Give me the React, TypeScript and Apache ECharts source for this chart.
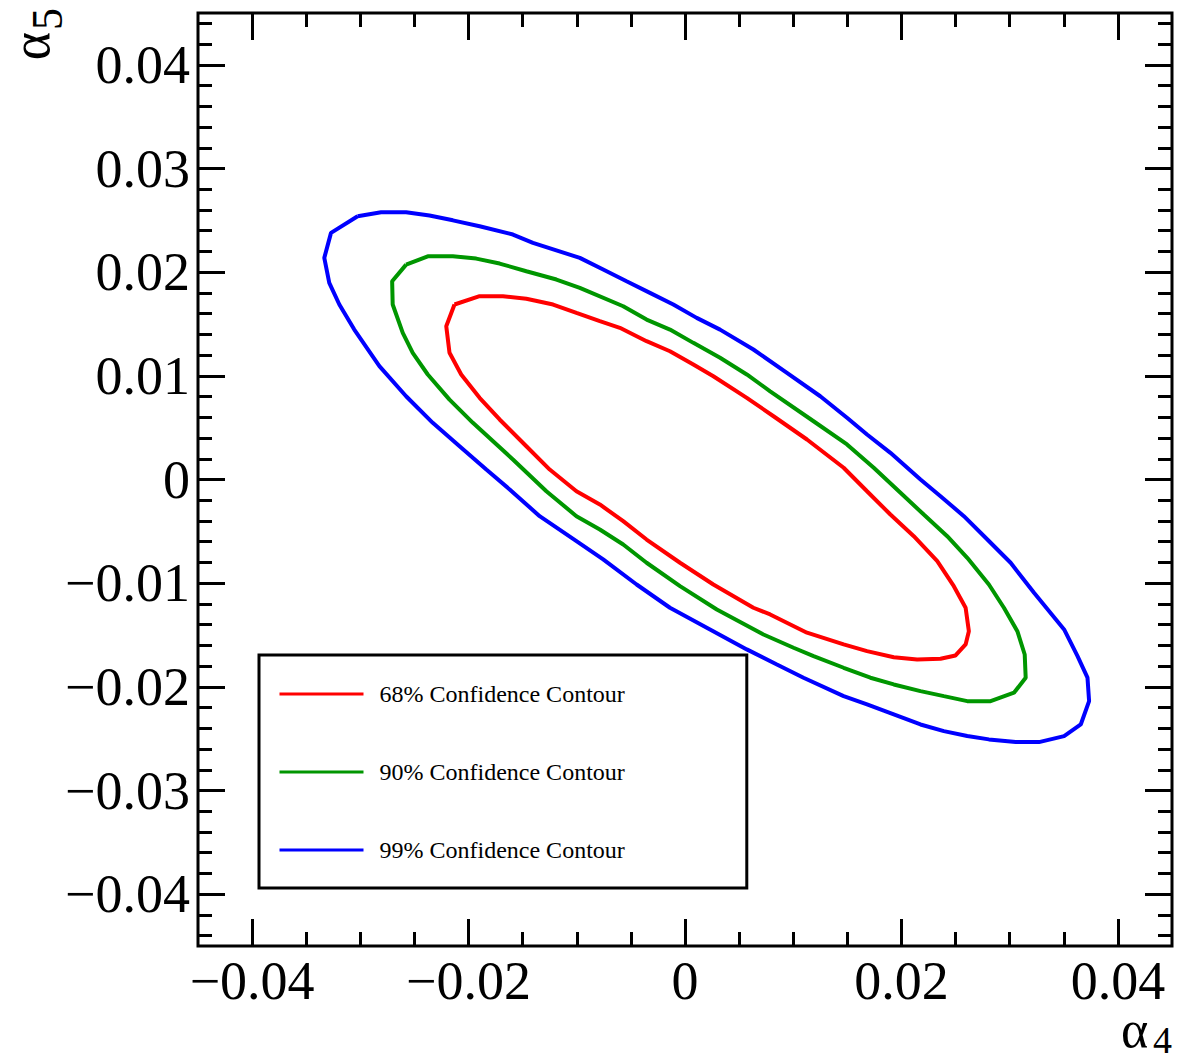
import React, { useEffect, useRef } from "react";
import * as echarts from "echarts";

// ---- tick values ----
const xMajorTicks = [-0.04, -0.02, 0, 0.02, 0.04];
const yMajorTicks = [-0.04, -0.03, -0.02, -0.01, 0, 0.01, 0.02, 0.03, 0.04];
const xMinorTicks = [-0.035, -0.03, -0.025, -0.015, -0.01, -0.005, 0.005, 0.01, 0.015, 0.025, 0.03, 0.035];
const yMinorTicks = [
  -0.044, -0.042, -0.038, -0.036, -0.034, -0.032, -0.028, -0.026, -0.024, -0.022,
  -0.018, -0.016, -0.014, -0.012, -0.008, -0.006, -0.004, -0.002,
  0.002, 0.004, 0.006, 0.008, 0.012, 0.014, 0.016, 0.018, 0.022, 0.024, 0.026, 0.028,
  0.032, 0.034, 0.036, 0.038, 0.042, 0.044,
];

const seriesNames = ["68% Confidence Contour", "90% Confidence Contour", "99% Confidence Contour"];
const seriesColors = ["#ff0000", "#009600", "#0000ff"];

// ---- contour points [alpha4, alpha5] ----
const contour68 = [
  [-0.0213, 0.01688], [-0.01898, 0.01768], [-0.01682, 0.01768], [-0.01466, 0.01743], [-0.01219, 0.01688],
  [-0.01003, 0.01607], [-0.00787, 0.01527], [-0.00602, 0.01463], [-0.00355, 0.01334], [-0.00139, 0.01237],
  [0.00077, 0.01109], [0.00262, 0.00996], [0.00571, 0.00788], [0.00818, 0.0061], [0.01127, 0.00386],
  [0.01466, 0.00113], [0.01682, -0.00113], [0.01898, -0.00338], [0.02114, -0.00547], [0.02331, -0.00788],
  [0.02484, -0.01029], [0.02593, -0.01237], [0.02623, -0.01463], [0.02593, -0.01591], [0.025, -0.01697],
  [0.02361, -0.01729], [0.02145, -0.01736], [0.01929, -0.01714], [0.01682, -0.01656], [0.01466, -0.01591],
  [0.01127, -0.01478], [0.00787, -0.01302], [0.00632, -0.01237], [0.00262, -0.01013], [-0.00046, -0.00803],
  [-0.00355, -0.00579], [-0.00571, -0.00402], [-0.00787, -0.00241], [-0.01003, -0.00113], [-0.0125, 0.00096],
  [-0.01466, 0.00321], [-0.01713, 0.00579], [-0.01898, 0.00788], [-0.02068, 0.01013], [-0.02176, 0.01222],
  [-0.02206, 0.01478], [-0.0213, 0.01688],
];

const contour90 = [
  [-0.02577, 0.02073], [-0.02377, 0.02153], [-0.02145, 0.02153], [-0.01929, 0.02131], [-0.01713, 0.02083],
  [-0.01466, 0.02009], [-0.01188, 0.01929], [-0.00972, 0.01849], [-0.00571, 0.01671], [-0.00355, 0.01543],
  [-0.00139, 0.01446], [0.00077, 0.01318], [0.00324, 0.01174], [0.00571, 0.01013], [0.00787, 0.00851],
  [0.01188, 0.00562], [0.01497, 0.00338], [0.01744, 0.00113], [0.01991, -0.00128], [0.02206, -0.00338],
  [0.02423, -0.00547], [0.02608, -0.00755], [0.02808, -0.01013], [0.02947, -0.01237], [0.03071, -0.01463],
  [0.03139, -0.01688], [0.03148, -0.01912], [0.0304, -0.02057], [0.02824, -0.02138], [0.02608, -0.02138],
  [0.02392, -0.0209], [0.02176, -0.02041], [0.01929, -0.01977], [0.01713, -0.01912], [0.01466, -0.01816],
  [0.01188, -0.01704], [0.01003, -0.01623], [0.00725, -0.01495], [0.00294, -0.01254], [-0.00046, -0.01029],
  [-0.00355, -0.00803], [-0.00571, -0.00627], [-0.00787, -0.00482], [-0.01003, -0.00354], [-0.01281, -0.00113],
  [-0.0159, 0.00193], [-0.0196, 0.00547], [-0.02176, 0.00771], [-0.02377, 0.01013], [-0.02516, 0.01222],
  [-0.02608, 0.01415], [-0.02701, 0.01688], [-0.02706, 0.01912], [-0.02577, 0.02073],
];

const contour99 = [
  [-0.03025, 0.02539], [-0.02808, 0.02578], [-0.02577, 0.02578], [-0.02361, 0.02546], [-0.02145, 0.025],
  [-0.01898, 0.02443], [-0.0159, 0.02363], [-0.01405, 0.02283], [-0.00972, 0.02138], [-0.00756, 0.02025],
  [-0.0054, 0.01912], [-0.00324, 0.018], [-0.00108, 0.01688], [0.00108, 0.01559], [0.00324, 0.01446],
  [0.00632, 0.01254], [0.00942, 0.01029], [0.0125, 0.00803], [0.01497, 0.00595], [0.01682, 0.00434],
  [0.01898, 0.00257], [0.02176, 0.0], [0.02361, -0.00161], [0.02577, -0.00354], [0.02794, -0.00579],
  [0.03009, -0.00803], [0.03225, -0.01093], [0.03503, -0.01446], [0.03627, -0.01704], [0.03719, -0.01912],
  [0.03734, -0.02138], [0.03657, -0.02363], [0.03503, -0.02475], [0.03271, -0.02533], [0.03056, -0.02533],
  [0.02808, -0.02507], [0.02608, -0.02475], [0.02392, -0.02427], [0.02176, -0.02363], [0.01929, -0.02266],
  [0.01682, -0.0217], [0.01466, -0.0209], [0.01095, -0.01912], [0.00849, -0.01784], [0.00571, -0.01639],
  [0.00231, -0.01446], [-0.00139, -0.01237], [-0.00447, -0.01013], [-0.00756, -0.00771], [-0.01003, -0.00595],
  [-0.01343, -0.00354], [-0.0162, -0.00096], [-0.01836, 0.00096], [-0.02083, 0.00321], [-0.02331, 0.00547],
  [-0.02577, 0.00803], [-0.02824, 0.01093], [-0.03056, 0.01446], [-0.03194, 0.01688], [-0.03287, 0.01897],
  [-0.03333, 0.02138], [-0.03271, 0.02379], [-0.03025, 0.02539],
];

const contours = [contour68, contour90, contour99];

const FONT = "Liberation Serif";
const fmt = (v: number) =>
  Math.abs(v) < 1e-9 ? "0" : (v < 0 ? "\u2212" : "") + Math.abs(v).toFixed(2);

function makeAxis(kind: "x" | "y", pos: string, grid: number, ticks: number[], len: number, labels: boolean) {
  return {
    type: "value",
    gridIndex: grid,
    position: pos,
    min: -0.045,
    max: 0.045,
    axisLine: { show: false, onZero: false },
    splitLine: { show: false },
    axisTick: {
      show: true,
      inside: true,
      length: len,
      customValues: ticks,
      lineStyle: { color: "#000", width: 3 },
    },
    axisLabel: labels
      ? {
          show: true,
          customValues: ticks,
          formatter: fmt,
          fontFamily: FONT,
          fontSize: 54,
          lineHeight: kind === "x" ? 40 : 50,
          color: "#000",
          margin: kind === "x" ? 15 : 8,
        }
      : { show: false },
  };
}

export default function App() {
  const ref = useRef<HTMLDivElement>(null);
  useEffect(() => {
    if (!ref.current) return;
    const chart = echarts.init(ref.current, null, { renderer: "svg" });
    const gridBox = { left: 198, top: 13, width: 974, height: 933 };
    const option: any = {
      animation: false,
      backgroundColor: "#fff",
      grid: [
        { ...gridBox, show: true, borderColor: "#000", borderWidth: 3, backgroundColor: "transparent" },
        { ...gridBox, show: false },
      ],
      xAxis: [
        makeAxis("x", "bottom", 0, xMajorTicks, 27, true),
        makeAxis("x", "top", 0, xMajorTicks, 27, false),
        makeAxis("x", "bottom", 1, xMinorTicks, 14, false),
        makeAxis("x", "top", 1, xMinorTicks, 14, false),
      ],
      yAxis: [
        makeAxis("y", "left", 0, yMajorTicks, 27, true),
        makeAxis("y", "right", 0, yMajorTicks, 27, false),
        makeAxis("y", "left", 1, yMinorTicks, 14, false),
        makeAxis("y", "right", 1, yMinorTicks, 14, false),
      ],
      legend: {
        show: true,
        orient: "vertical",
        left: 259,
        top: 655,
        padding: [27, 122, 26, 19],
        itemWidth: 84,
        itemHeight: 24,
        itemGap: 54,
        backgroundColor: "#fff",
        borderColor: "#000",
        borderWidth: 3,
        borderRadius: 0,
        data: seriesNames,
        itemStyle: { opacity: 0 },
        lineStyle: { width: 3 },
        textStyle: { fontFamily: FONT, fontSize: 24, color: "#000", padding: [0, 0, 0, 11], lineHeight: 24 },
      },
      series: contours.map((c, i) => ({
        name: seriesNames[i],
        type: "line",
        xAxisIndex: 0,
        yAxisIndex: 0,
        data: c,
        symbol: "none",
        smooth: false,
        lineStyle: { color: seriesColors[i], width: 4 },
        itemStyle: { color: seriesColors[i] },
        z: 3,
      })),
      graphic: [
        {
          type: "text",
          x: 1121,
          y: 1029,
          style: { text: "\u03b1", font: `52px "${FONT}"`, lineHeight: 28, fill: "#000", textAlign: "left", textVerticalAlign: "middle" },
        },
        {
          type: "text",
          x: 1153,
          y: 1040,
          style: { text: "4", font: `38px "${FONT}"`, lineHeight: 30, fill: "#000", textAlign: "left", textVerticalAlign: "middle" },
        },
        {
          type: "text",
          x: 31,
          y: 46,
          rotation: Math.PI / 2,
          style: { text: "\u03b1", font: `54px "${FONT}"`, lineHeight: 30, fill: "#000", textAlign: "center", textVerticalAlign: "middle" },
        },
        {
          type: "text",
          x: 47,
          y: 19,
          rotation: Math.PI / 2,
          style: { text: "5", font: `44px "${FONT}"`, lineHeight: 34, fill: "#000", textAlign: "center", textVerticalAlign: "middle" },
        },
      ],
    };
    chart.setOption(option);
    return () => chart.dispose();
  }, []);
  return (
    <div
      ref={ref}
      style={{ position: "absolute", left: 0, top: 0, width: 1189, height: 1064 }}
    />
  );
}
